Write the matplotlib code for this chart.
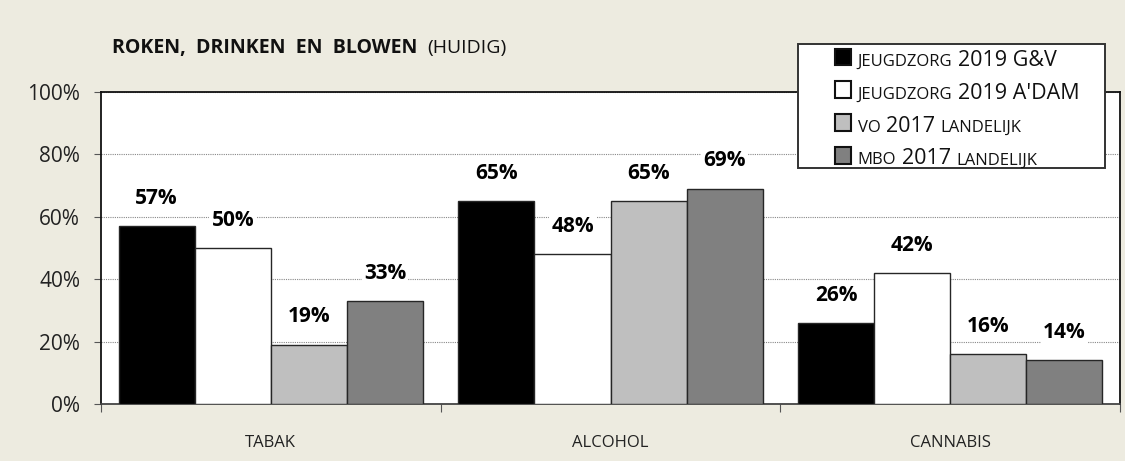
import matplotlib.pyplot as plt
import numpy as np
from matplotlib.patches import Rectangle
from matplotlib.offsetbox import TextArea, HPacker, VPacker, DrawingArea, AnchoredOffsetbox

plt.rcParams['font.family'] = ['Open Sans', 'DejaVu Sans']

# data
categories = ["TABAK", "ALCOHOL", "CANNABIS"]
series_small = ["JEUGDZORG", "JEUGDZORG", "VO", "MBO"]
series_big = ["2019 G&V", "2019 A'DAM", "2017", "2017"]
series_tail = ["", "", "LANDELIJK", "LANDELIJK"]
values = [
    [57, 65, 26],   # jeugdzorg 2019 G&V
    [50, 48, 42],   # jeugdzorg 2019 A'dam
    [19, 65, 16],   # VO 2017 landelijk
    [33, 69, 14],   # MBO 2017 landelijk
]
colors = ["#000000", "#FFFFFF", "#BFBFBF", "#808080"]
bg = "#EDEBE0"

fig = plt.figure(figsize=(11.25, 4.61), dpi=100, facecolor=bg)
ax = fig.add_axes([0.0898, 0.1236, 0.9058, 0.6768])
ax.set_facecolor("white")

x = np.arange(len(categories)) + 0.5
width = 0.224
for i, vals in enumerate(values):
    pos = x + (i - 1.5) * width
    ax.bar(pos, vals, width, color=colors[i], edgecolor="#262626",
           linewidth=1.0, zorder=3)
    for xp, v in zip(pos, vals):
        ax.annotate(f"{v}%", (xp, v), xytext=(0, 20), textcoords="offset points",
                    ha="center", va="center", fontsize=15, fontweight="bold",
                    bbox=dict(facecolor="white", edgecolor="none", pad=1.5), zorder=4)

ax.set_xlim(0, 3)
ax.set_ylim(0, 100)
ax.set_yticks(np.arange(0, 101, 20))
ax.set_yticklabels([f"{t}%" for t in range(0, 101, 20)], fontsize=15, color="#222222")
ax.set_xticks([0, 1, 2, 3])
ax.set_xticklabels([])
ax.set_xticks(x, minor=True)
ax.set_xticklabels(categories, minor=True, fontsize=12, color="#222222")
ax.tick_params(axis="x", which="minor", length=0, pad=22)
ax.tick_params(axis="x", which="major", length=6, color="#555555", direction="out")
ax.tick_params(axis="y", length=5, color="#555555", direction="out", pad=10)
ax.yaxis.grid(True, linestyle=(0, (1, 1)), color="#888888", linewidth=0.8, zorder=0)
for s in ax.spines.values():
    s.set_color("#111111")
    s.set_linewidth(1.3)
ax.spines["bottom"].set_color("#444444")

# title
t1 = TextArea("ROKEN,  DRINKEN  EN  BLOWEN", textprops=dict(fontsize=14, fontweight="bold", color="#111111"))
t2 = TextArea("(HUIDIG)", textprops=dict(fontsize=14, color="#111111"))
title = HPacker(children=[t1, t2], align="baseline", pad=0, sep=7)
fig.add_artist(AnchoredOffsetbox(loc="center left", child=title, frameon=False, pad=0,
                                 bbox_to_anchor=(0.1, 0.895), bbox_transform=fig.transFigure,
                                 borderpad=0))

# legend box
fig.add_artist(Rectangle((798 / 1125, 1 - 168 / 461), 307 / 1125, 124 / 461,
                         transform=fig.transFigure, facecolor="white", edgecolor="#333333",
                         linewidth=1.4, zorder=5))
rows = []
for i in range(4):
    da = DrawingArea(13, 13, 0, 0)
    da.add_artist(Rectangle((0.5, 0.5), 12, 12, facecolor=colors[i], edgecolor="#111111", linewidth=1.5))
    parts = [da, TextArea(series_small[i], textprops=dict(fontsize=12, color="#111111")),
             TextArea(series_big[i], textprops=dict(fontsize=15.5, color="#111111"))]
    if series_tail[i]:
        parts.append(TextArea(series_tail[i], textprops=dict(fontsize=12, color="#111111")))
    rows.append(HPacker(children=parts, align="baseline", pad=0, sep=4))
leg = VPacker(children=rows, align="left", pad=0, sep=7)
legbox = AnchoredOffsetbox(loc="upper left", child=leg, frameon=False, pad=0, borderpad=0,
                           bbox_to_anchor=(834 / 1125, 1 - 48 / 461), bbox_transform=fig.transFigure)
legbox.set_zorder(6)
fig.add_artist(legbox)

fig.savefig("out.png", dpi=100, facecolor=bg)
